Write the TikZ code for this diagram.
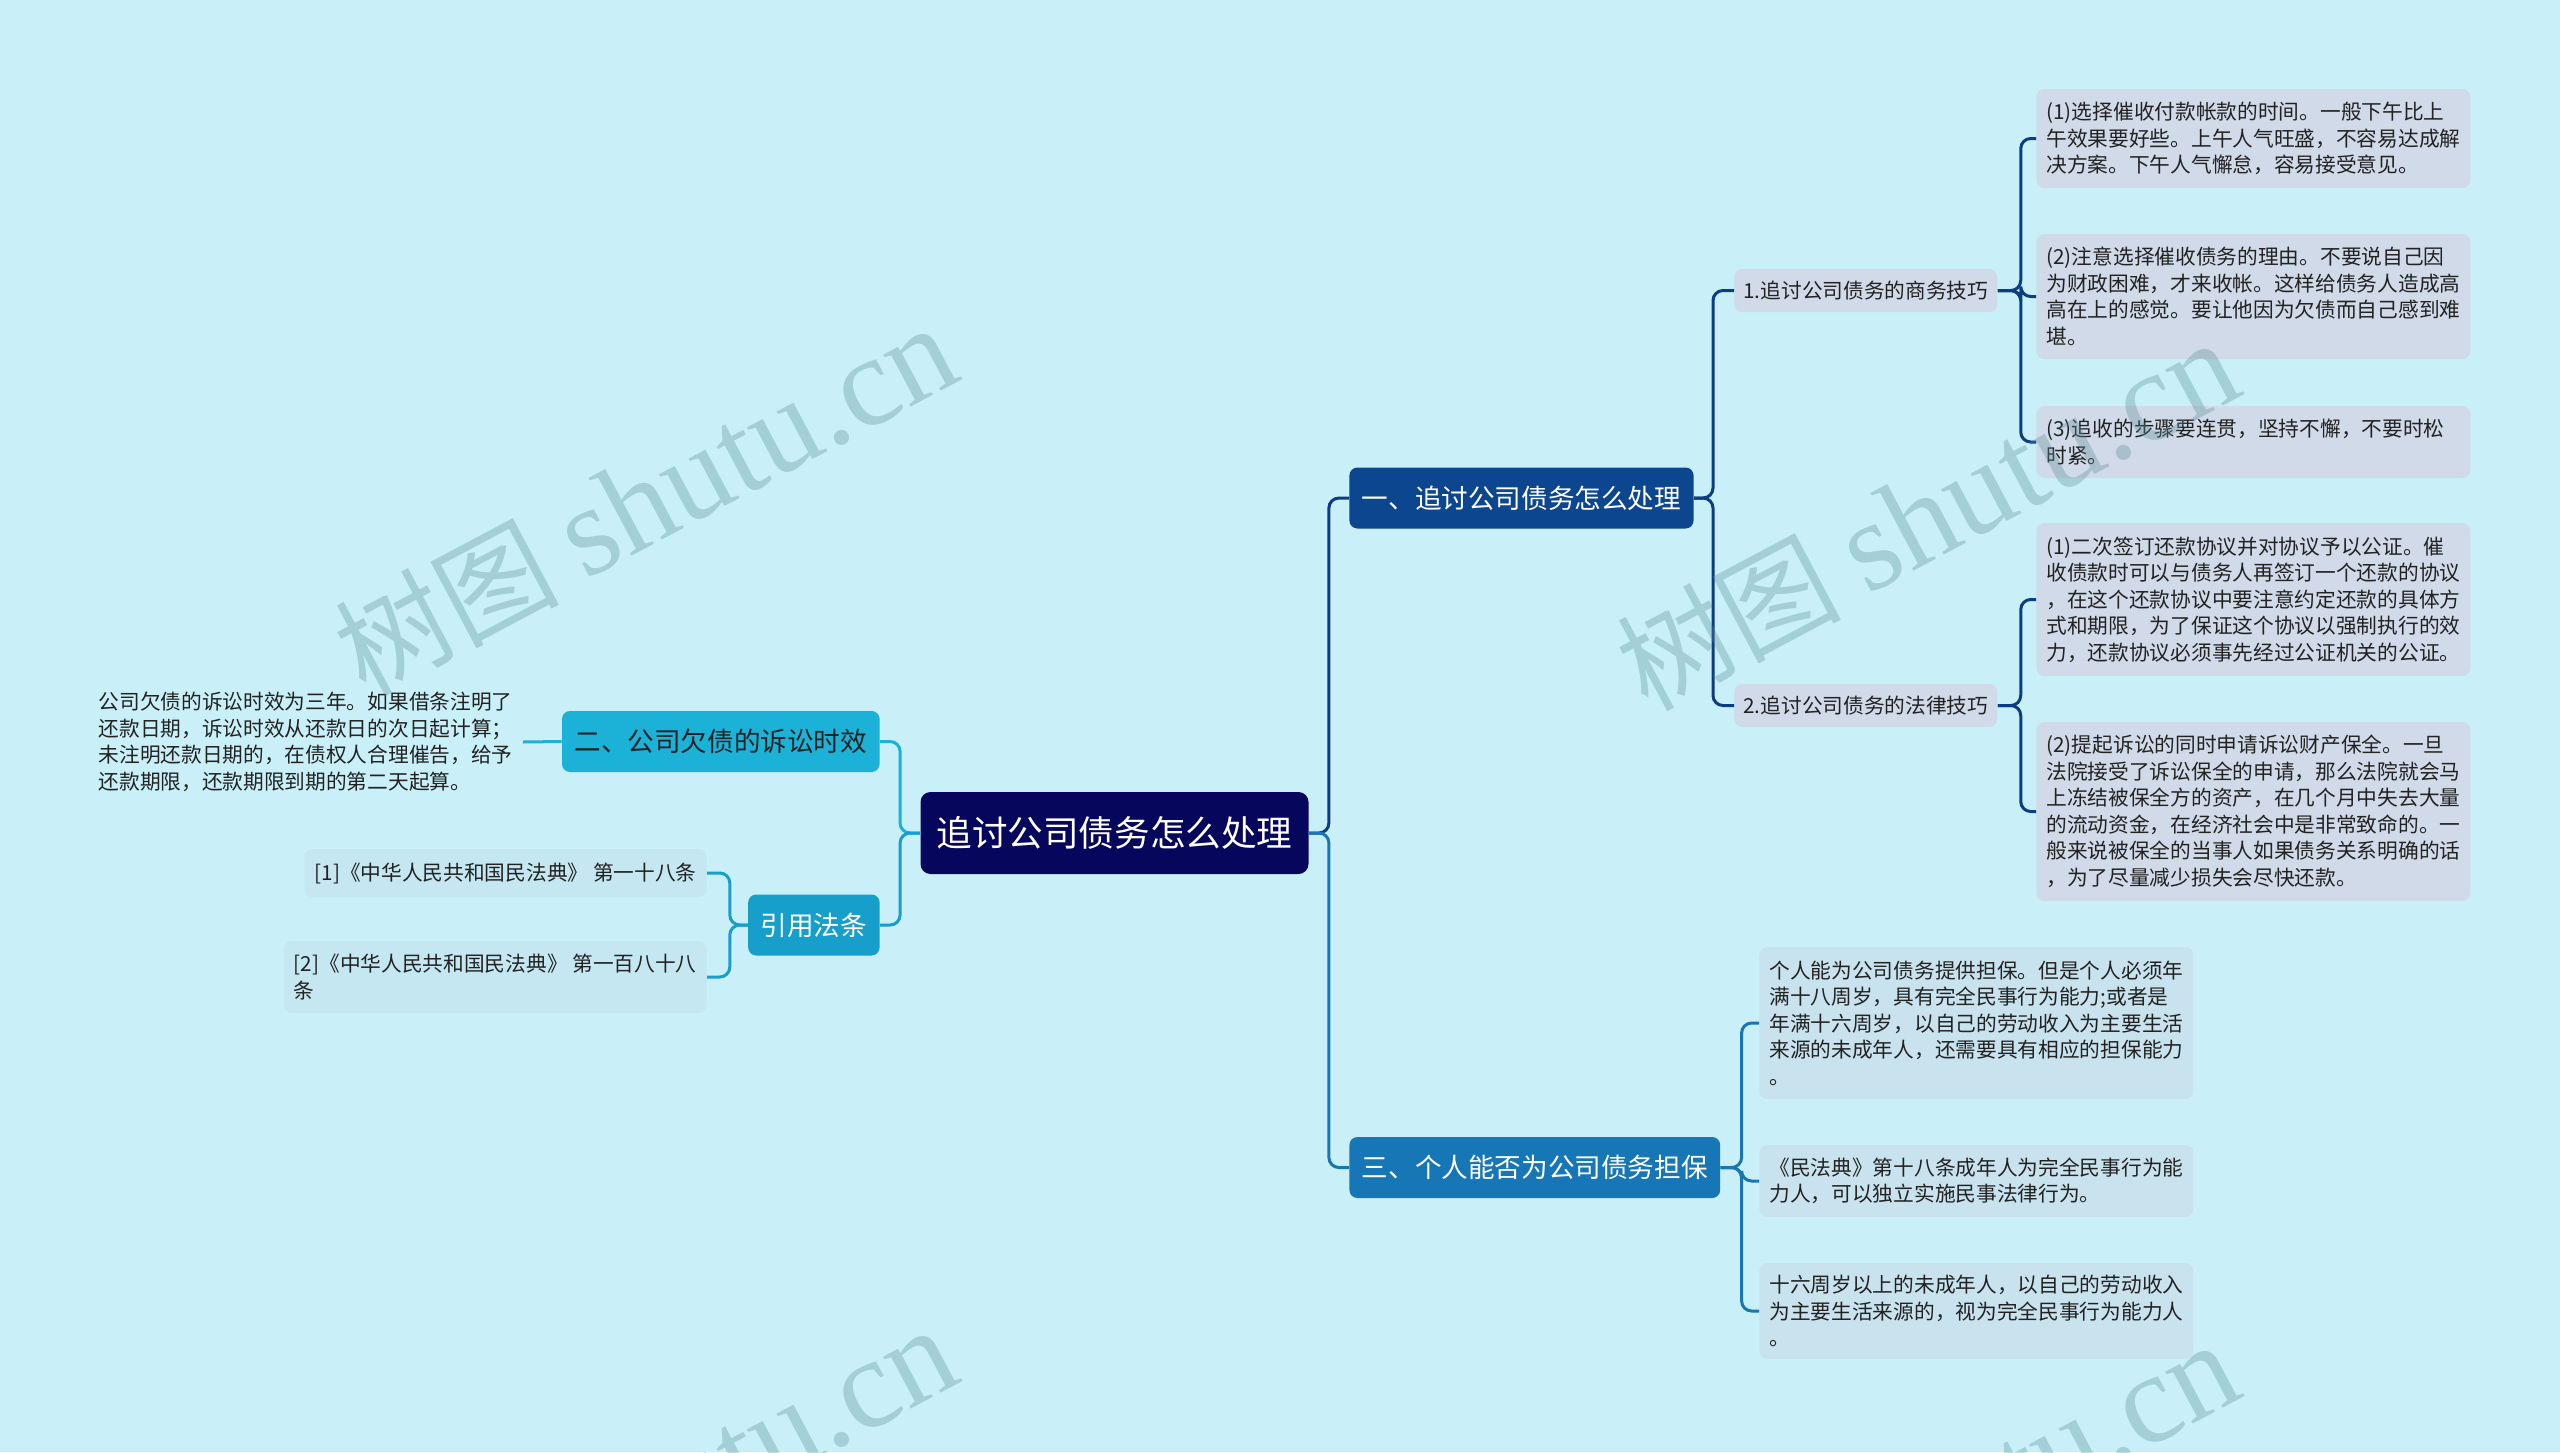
\documentclass[tikz,border=0pt]{standalone}
\usepackage{fontspec}
\setmainfont{Noto Sans CJK SC}
\newfontfamily\wmfont{Liberation Serif}
\usepackage{xcolor}
\usepackage{tikz}

\definecolor{bgcol}{RGB}{201,240,248}
\definecolor{rootblue}{RGB}{6,6,92}
\definecolor{oneblue}{RGB}{12,70,142}
\definecolor{onewire}{RGB}{12,60,130}
\definecolor{threeblue}{RGB}{23,119,182}
\definecolor{threewire}{RGB}{26,118,178}
\definecolor{twocyan}{RGB}{28,177,214}
\definecolor{citeblue}{RGB}{23,159,203}
\definecolor{citewire}{RGB}{26,157,203}
\definecolor{leafgray}{RGB}{208,218,232}
\definecolor{leafpale}{RGB}{200,226,238}
\definecolor{citepale}{RGB}{196,231,241}
\definecolor{inkgray}{RGB}{34,34,34}
\definecolor{wmteal}{RGB}{90,140,150}

\begin{document}
\begin{tikzpicture}[x=0.5pt, y=-0.5pt]
    % Define the style for the nodes
    \tikzstyle{root} = [rounded corners=5pt, fill=rootblue, text=white, font=\fontsize{17.8pt}{20pt}\selectfont, inner xsep=8pt, inner ysep=0pt, minimum height=41pt]
    \tikzstyle{topic} = [rounded corners=4pt, text=white, font=\fontsize{13.3pt}{16pt}\selectfont, inner xsep=6.25pt, inner ysep=0pt, minimum height=30.5pt]
    \tikzstyle{subtopic} = [rounded corners=4pt, fill=leafgray, text=inkgray, font=\fontsize{10.35pt}{13.25pt}\selectfont, inner xsep=4.5pt, inner ysep=0pt, minimum height=21.5pt]
    \tikzstyle{leaf} = [rounded corners=4pt, fill=leafgray, text=inkgray, font=\fontsize{10.35pt}{13.25pt}\selectfont, text width=207pt, align=left, inner xsep=5pt, inner ysep=2pt, anchor=west]
    \tikzstyle{line} = [draw, line width=1.5pt]
    \tikzstyle{wmark} = [text=wmteal, text opacity=0.33, font=\fontsize{56pt}{60pt}\selectfont, anchor=base west, rotate=28, inner sep=0pt]

    \fill [bgcol] (0,0) rectangle (2560,1452);
    \useasboundingbox (0,0) rectangle (2560,1452);

    % Place the nodes
    \node [root] (root) at (1114.5,833) {追讨公司债务怎么处理};

    \node [topic, fill=oneblue, anchor=west] (one) at (1349,498) {一、追讨公司债务怎么处理};
    \node [topic, fill=threeblue, anchor=west] (three) at (1349,1167.5) {三、个人能否为公司债务担保};
    \node [topic, fill=twocyan, text=inkgray, anchor=east] (two) at (880,741.5) {二、公司欠债的诉讼时效};
    \node [topic, fill=citeblue, anchor=east] (cite) at (880,925) {引用法条};

    \node [subtopic, anchor=west] (biz) at (1734,290.5) {1.追讨公司债务的商务技巧};
    \node [subtopic, anchor=west] (law) at (1734,705.5) {2.追讨公司债务的法律技巧};

    \node [leaf, minimum height=49.5pt] (biz1) at (2036,138.5) {(1)选择催收付款帐款的时间。一般下午比上\\午效果要好些。上午人气旺盛，不容易达成解\\决方案。下午人气懈怠，容易接受意见。};
    \node [leaf, minimum height=62.5pt] (biz2) at (2036,296.5) {(2)注意选择催收债务的理由。不要说自己因\\为财政困难，才来收帐。这样给债务人造成高\\高在上的感觉。要让他因为欠债而自己感到难\\堪。};
    \node [leaf, minimum height=36pt] (biz3) at (2036,442) {(3)追收的步骤要连贯，坚持不懈，不要时松\\时紧。};
    \node [leaf, minimum height=76.5pt] (law1) at (2036,599.5) {(1)二次签订还款协议并对协议予以公证。催\\收债款时可以与债务人再签订一个还款的协议\\，在这个还款协议中要注意约定还款的具体方\\式和期限，为了保证这个协议以强制执行的效\\力，还款协议必须事先经过公证机关的公证。};
    \node [leaf, minimum height=89.5pt] (law2) at (2036,811.5) {(2)提起诉讼的同时申请诉讼财产保全。一旦\\法院接受了诉讼保全的申请，那么法院就会马\\上冻结被保全方的资产，在几个月中失去大量\\的流动资金，在经济社会中是非常致命的。一\\般来说被保全的当事人如果债务关系明确的话\\，为了尽量减少损失会尽快还款。};

    \node [leaf, fill=leafpale, minimum height=76pt] (guar1) at (1759,1023) {个人能为公司债务提供担保。但是个人必须年\\满十八周岁，具有完全民事行为能力;或者是\\年满十六周岁，以自己的劳动收入为主要生活\\来源的未成年人，还需要具有相应的担保能力\\。};
    \node [leaf, fill=leafpale, minimum height=36pt] (guar2) at (1759,1181) {《民法典》第十八条成年人为完全民事行为能\\力人，可以独立实施民事法律行为。};
    \node [leaf, fill=leafpale, minimum height=48pt] (guar3) at (1759,1311) {十六周岁以上的未成年人，以自己的劳动收入\\为主要生活来源的，视为完全民事行为能力人\\。};

    \node [leaf, fill=none, anchor=east] (twonote) at (523,742) {公司欠债的诉讼时效为三年。如果借条注明了\\还款日期，诉讼时效从还款日的次日起计算；\\未注明还款日期的，在债权人合理催告，给予\\还款期限，还款期限到期的第二天起算。};

    \node [leaf, fill=citepale, text width=, anchor=east, minimum height=24pt] (cite1) at (707,873) {[1]《中华人民共和国民法典》 第一十八条};
    \node [leaf, fill=citepale, text width=, anchor=east, minimum height=36pt] (cite2) at (707,977) {[2]《中华人民共和国民法典》 第一百八十八\\条};

    % Connect the nodes with paths
    \path [line, onewire] (one.west) [rounded corners=5pt] -| ([xshift=10pt]root.east) [sharp corners] -- (root.east);
    \path [line, threewire] (three.west) [rounded corners=5pt] -| ([xshift=10pt]root.east) [sharp corners] -- (root.east);
    \path [line, twocyan] (two.east) [rounded corners=5pt] -| ([xshift=-10pt]root.west) [sharp corners] -- (root.west);
    \path [line, citewire] (cite.east) [rounded corners=5pt] -| ([xshift=-10pt]root.west) [sharp corners] -- (root.west);

    \path [line, onewire] (biz.west) [rounded corners=5pt] -| ([xshift=9.5pt]one.east) [sharp corners] -- (one.east);
    \path [line, onewire] (law.west) [rounded corners=5pt] -| ([xshift=9.5pt]one.east) [sharp corners] -- (one.east);

    \foreach \leafname in {biz1, biz2, biz3}
        \path [line, onewire] (\leafname.west) [rounded corners=5pt] -| ([xshift=11.5pt]biz.east) [sharp corners] -- (biz.east);
    \foreach \leafname in {law1, law2}
        \path [line, onewire] (\leafname.west) [rounded corners=5pt] -| ([xshift=11.5pt]law.east) [sharp corners] -- (law.east);
    \foreach \leafname in {guar1, guar2, guar3}
        \path [line, threewire] (\leafname.west) [rounded corners=5pt] -| ([xshift=10.5pt]three.east) [sharp corners] -- (three.east);
    \foreach \leafname in {cite1, cite2}
        \path [line, citewire] (\leafname.east) [rounded corners=5pt] -| ([xshift=-9pt]cite.west) [sharp corners] -- (cite.west);

    \path [line, twocyan] (two.west) -- (twonote.east);

    % Watermark
    \begin{scope}
        \clip (0,0) rectangle (2560,1452);
        \foreach \wx/\wy/\k in {365/698/1, 1647/713/2, 365/1700/3, 1647/1715/4}
            \node [wmark] (wm\k) at (\wx,\wy) {树图 {\wmfont\fontsize{64pt}{66pt}\selectfont shutu.cn}};
    \end{scope}
\end{tikzpicture}
\end{document}
